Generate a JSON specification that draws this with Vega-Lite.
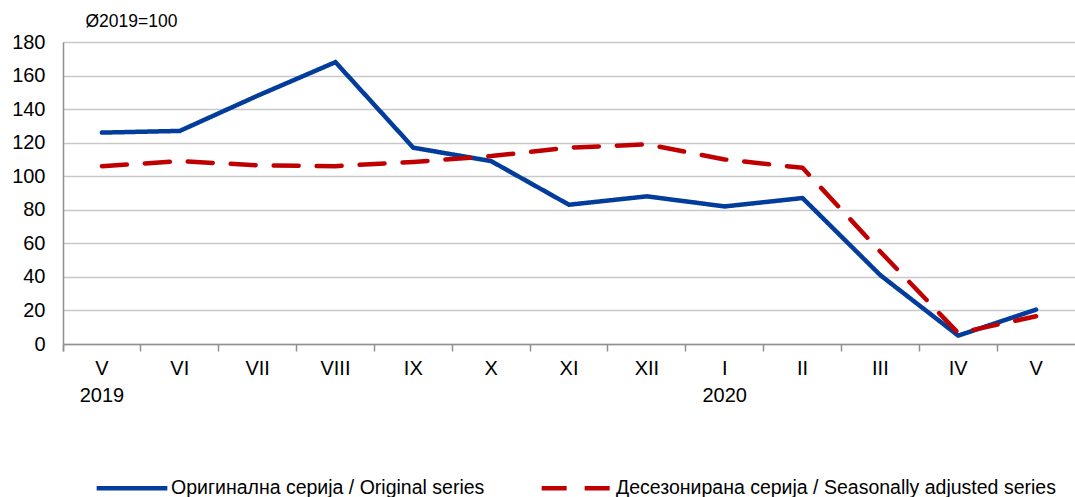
{
  "$schema": "https://vega.github.io/schema/vega-lite/v6.json",
  "autosize": "none",
  "width": 1012,
  "height": 302,
  "padding": {"left": 63, "top": 42, "right": 0, "bottom": 153},
  "background": "white",
  "config": {
    "font": "Liberation Sans",
    "view": {"stroke": null}
  },
  "data": {
    "values": [
      {"m": "V|2019", "s": "Оригинална серија / Original series", "v": 126},
      {"m": "VI", "s": "Оригинална серија / Original series", "v": 127},
      {"m": "VII", "s": "Оригинална серија / Original series", "v": 148},
      {"m": "VIII", "s": "Оригинална серија / Original series", "v": 168},
      {"m": "IX", "s": "Оригинална серија / Original series", "v": 117},
      {"m": "X", "s": "Оригинална серија / Original series", "v": 109},
      {"m": "XI", "s": "Оригинална серија / Original series", "v": 83},
      {"m": "XII", "s": "Оригинална серија / Original series", "v": 88},
      {"m": "I|2020", "s": "Оригинална серија / Original series", "v": 82},
      {"m": "II", "s": "Оригинална серија / Original series", "v": 87},
      {"m": "III", "s": "Оригинална серија / Original series", "v": 41},
      {"m": "IV", "s": "Оригинална серија / Original series", "v": 5},
      {"m": "V|", "s": "Оригинална серија / Original series", "v": 20.5},
      {"m": "V|2019", "s": "Десезонирана серија / Seasonally adjusted series", "v": 106},
      {"m": "VI", "s": "Десезонирана серија / Seasonally adjusted series", "v": 109},
      {"m": "VII", "s": "Десезонирана серија / Seasonally adjusted series", "v": 106.5},
      {"m": "VIII", "s": "Десезонирана серија / Seasonally adjusted series", "v": 106},
      {"m": "IX", "s": "Десезонирана серија / Seasonally adjusted series", "v": 108.5},
      {"m": "X", "s": "Десезонирана серија / Seasonally adjusted series", "v": 112},
      {"m": "XI", "s": "Десезонирана серија / Seasonally adjusted series", "v": 117},
      {"m": "XII", "s": "Десезонирана серија / Seasonally adjusted series", "v": 119},
      {"m": "I|2020", "s": "Десезонирана серија / Seasonally adjusted series", "v": 110},
      {"m": "II", "s": "Десезонирана серија / Seasonally adjusted series", "v": 105},
      {"m": "III", "s": "Десезонирана серија / Seasonally adjusted series", "v": 55},
      {"m": "IV", "s": "Десезонирана серија / Seasonally adjusted series", "v": 6.5},
      {"m": "V|", "s": "Десезонирана серија / Seasonally adjusted series", "v": 16.5}
    ]
  },
  "mark": {"type": "line", "strokeWidth": 4.5, "strokeJoin": "round", "strokeCap": "round"},
  "encoding": {
    "x": {
      "field": "m",
      "type": "nominal",
      "sort": null,
      "bandPosition": 0.5,
      "scale": {"type": "band", "paddingInner": 0, "paddingOuter": 0},
      "axis": {
        "title": null,
        "labelAngle": 0,
        "labelExpr": "datum.value ? split(datum.value, '|') : ''",
        "labelFontSize": 20,
        "labelColor": "#000000",
        "labelLineHeight": 27,
        "labelPadding": 7,
        "labelBaseline": "top",
        "bandPosition": 0,
        "tickExtra": true,
        "ticks": true,
        "tickSize": 7,
        "tickColor": "#909090",
        "tickWidth": 1.5,
        "domainColor": "#909090",
        "domainWidth": 1.5,
        "grid": false
      }
    },
    "y": {
      "field": "v",
      "type": "quantitative",
      "scale": {"domain": [0, 180], "nice": false},
      "axis": {
        "values": [0, 20, 40, 60, 80, 100, 120, 140, 160, 180],
        "title": "Ø2019=100",
        "titleAngle": 0,
        "titleAlign": "left",
        "titleBaseline": "middle",
        "titleX": 22,
        "titleY": -21,
        "titleFontSize": 17.5,
        "titleFontWeight": "normal",
        "titleColor": "#000000",
        "labelFontSize": 20,
        "labelColor": "#000000",
        "labelPadding": 18,
        "ticks": false,
        "domainColor": "#909090",
        "domainWidth": 1.5,
        "grid": true,
        "gridColor": "#c8c8c8",
        "gridWidth": 1.5
      }
    },
    "color": {
      "field": "s",
      "type": "nominal",
      "scale": {
        "domain": ["Оригинална серија / Original series", "Десезонирана серија / Seasonally adjusted series"],
        "range": ["#033d9c", "#c00000"]
      },
      "legend": {
        "title": null,
        "orient": "none",
        "direction": "horizontal",
        "legendX": 31,
        "legendY": 408,
        "symbolType": "stroke",
        "symbolSize": 5000,
        "symbolStrokeWidth": 4.5,
        "labelFontSize": 19.5,
        "labelColor": "#000000",
        "labelLimit": 600,
        "labelOffset": 1,
        "columnPadding": 47
      }
    },
    "strokeDash": {
      "field": "s",
      "type": "nominal",
      "scale": {
        "domain": ["Оригинална серија / Original series", "Десезонирана серија / Seasonally adjusted series"],
        "range": [[1, 0], [25, 18]]
      },
      "legend": null
    }
  }
}
